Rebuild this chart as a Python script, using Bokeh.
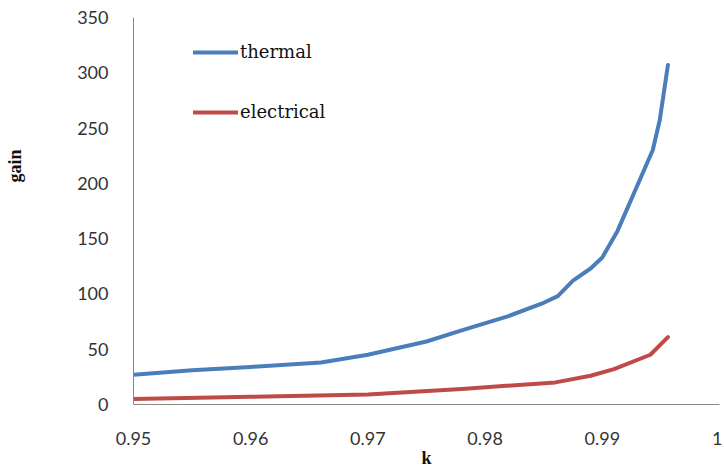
from bokeh.plotting import figure
from bokeh.models import Range1d, FixedTicker, Legend, LegendItem, CustomJSTickFormatter
from bokeh.embed import file_html
from bokeh.resources import INLINE

thermal_k = [0.950, 0.955, 0.960, 0.966, 0.970, 0.975, 0.978, 0.982, 0.985, 0.9862,
             0.9875, 0.989, 0.990, 0.9913, 0.9943, 0.9949, 0.9956]
thermal_gain = [27, 31, 34, 38, 45, 57, 67, 80, 92, 98, 112, 123, 133, 157, 230, 257, 307]

electrical_k = [0.950, 0.960, 0.970, 0.978, 0.986, 0.989, 0.991, 0.9941, 0.9956]
electrical_gain = [5, 7, 9, 14, 20, 26, 32, 45, 61]

x_ticks = [0.95, 0.96, 0.97, 0.98, 0.99, 1.0]
y_ticks = [0, 50, 100, 150, 200, 250, 300, 350]

p = figure(width=722, height=470, output_backend="svg", toolbar_location=None,
           x_range=Range1d(0.95, 1.0), y_range=Range1d(0, 350),
           min_border_left=133, min_border_right=3, min_border_top=17, min_border_bottom=66)
p.outline_line_color = None
p.xgrid.visible = False
p.ygrid.visible = False

r1 = p.line(thermal_k, thermal_gain, line_color="#4a7ebb", line_width=4, line_cap="round", line_join="round")
r2 = p.line(electrical_k, electrical_gain, line_color="#be4b48", line_width=4, line_cap="round", line_join="round")

for ax in (p.xaxis[0], p.yaxis[0]):
    ax.axis_line_color = "#888888"
    ax.axis_line_width = 1
    ax.major_tick_line_color = None
    ax.minor_tick_line_color = None
    ax.major_label_text_font = "Lato"
    ax.major_label_text_font_size = "18px"
    ax.major_label_text_color = "#333333"
    ax.axis_label_text_font = "Liberation Serif"
    ax.axis_label_text_font_style = "bold"
    ax.axis_label_text_font_size = "18px"
    ax.axis_label_text_color = "#111111"

p.xaxis.ticker = FixedTicker(ticks=x_ticks)
p.yaxis.ticker = FixedTicker(ticks=y_ticks)
p.xaxis.formatter = CustomJSTickFormatter(code="return tick >= 0.9999 ? '1' : tick.toFixed(2);")
p.xaxis.axis_label = "k"
p.xaxis.major_label_standoff = 21
p.xaxis.axis_label_standoff = 0
# leading no-break spaces lift the rotated label above the axis centre, as in the reference
p.yaxis.axis_label = "\u00a0" * 20 + "gain"
p.yaxis.major_label_standoff = 19
p.yaxis.axis_label_standoff = 49

legend = Legend(items=[LegendItem(label="thermal", renderers=[r1]),
                       LegendItem(label="electrical", renderers=[r2])],
                location=(60, 282), padding=0, margin=0, spacing=39,
                glyph_width=45, glyph_height=20, label_height=20, label_standoff=2,
                label_text_font="DejaVu Serif", label_text_font_size="18px",
                label_text_color="#111111",
                background_fill_alpha=0, border_line_alpha=0)
p.add_layout(legend)

open("out.html", "w").write(file_html(p, INLINE))
